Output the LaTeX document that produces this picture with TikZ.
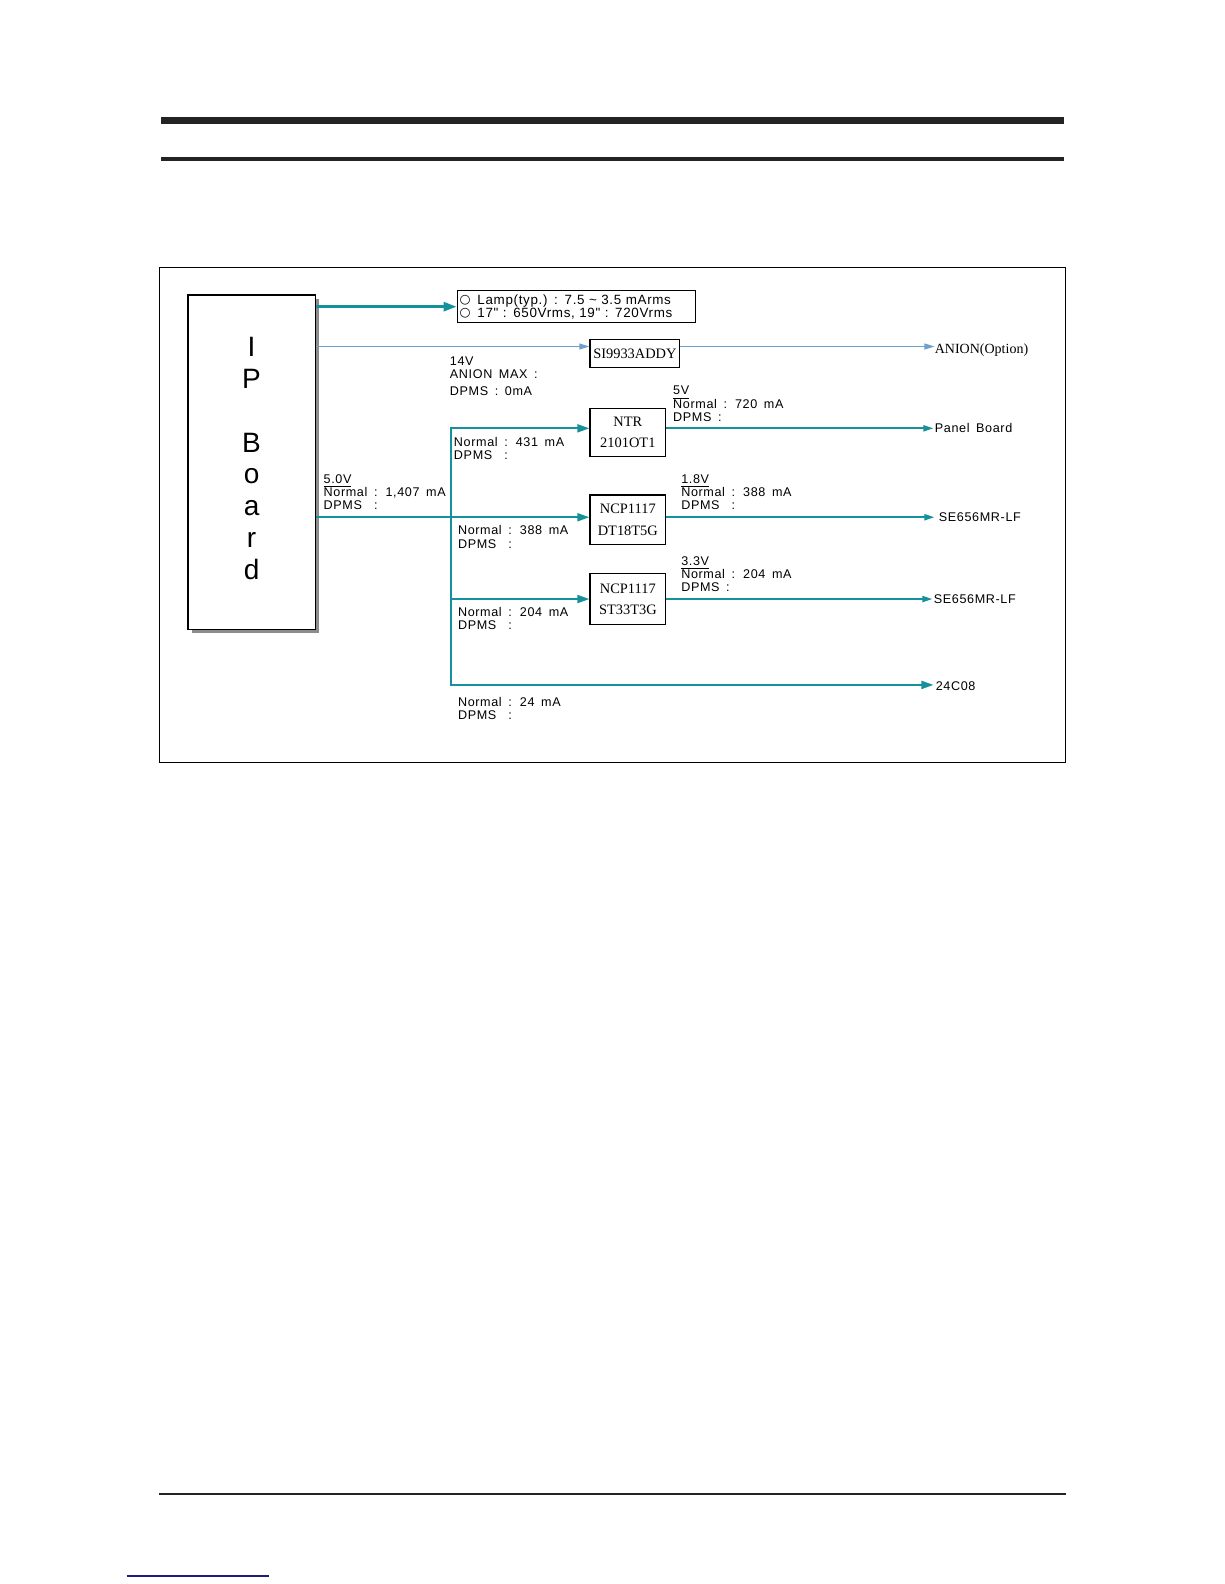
\documentclass[tikz,border=0pt]{standalone}
\usepackage{fontspec}
\usepackage{calc}
\setmainfont{Liberation Sans}
\newfontfamily\serf{Liberation Serif}
\newfontfamily\symf{DejaVu Sans}
\newfontfamily\gul[LetterSpace=5,WordSpace=1.6]{Liberation Sans}
\usetikzlibrary{arrows.meta,calc}
\definecolor{teal1}{RGB}{20,145,155}
\definecolor{thinblue}{RGB}{110,160,205}
\definecolor{linknavy}{RGB}{30,30,120}
\definecolor{bardark}{RGB}{35,35,35}
\definecolor{shadowgray}{RGB}{140,140,140}
\newcommand\pxu{0.505pt}
\newcommand\gfont{\gul\fontsize{6.3}{6.57}\selectfont}
\newcommand\lampfont{\gul\fontsize{6.7}{6.57}\selectfont}
\newcommand\lblk[1]{\begin{tabular}[t]{@{}l@{}}#1\end{tabular}}
\newcommand\dpms{\makebox[\widthof{Normal\ }][l]{DPMS}}
\newcommand\wc{\raisebox{0.2pt}{\symf\fontsize{6.3}{6}\selectfont ○}}
\tikzset{
  chip/.style={draw, line width=0.6pt, inner sep=0pt, align=center,
    font=\serf\fontsize{7.2}{10.6}\selectfont},
  lbl/.style={anchor=base west, inner sep=0pt, font=\gfont},
  endlbl/.style={anchor=west, inner sep=0pt, font=\gfont},
  tline/.style={draw=teal1, line width=1pt},
  tthick/.style={draw=teal1, line width=1.35pt},
  thinline/.style={draw=thinblue, line width=0.5pt},
  bigtip/.style={-{Triangle[length=6.5pt,width=4.5pt]}},
  midtip/.style={-{Triangle[length=6pt,width=4pt]}},
  smalltip/.style={-{Triangle[length=5pt,width=3pt]}},
}
\begin{document}
\begin{tikzpicture}[x=0.505pt, y=-0.505pt, line join=miter]
\useasboundingbox (0,0) rectangle (1212,1568);
% header bars
\fill[bardark] (159,115.5) rectangle (1053,122.8);
\fill[bardark] (159,155.5) rectangle (1053,159.4);
% footer
\fill[bardark] (157.4,1478.2) rectangle (1055,1480.2);
\draw[linknavy, line width=0.6pt] (125.4,1560) -- (266.4,1560);
% frame
\draw[line width=0.6pt] (158,264.7) rectangle (1055,754.8);

% IP board with shadow
\fill[shadowgray] (190,296) rectangle (316,627);
\node[draw, fill=white, line width=0.6pt, minimum width=126*\pxu, minimum height=331*\pxu, inner sep=0pt] (ip) at (249,457.5) {};
\node[inner sep=0pt, anchor=base, font=\fontsize{14}{15.9}\selectfont] (iplbl) at (249,353)
  {\begin{tabular}[t]{@{}c@{}}I\\P\\ \\B\\o\\a\\r\\d\end{tabular}};

% boxes
\node[draw, line width=0.6pt, anchor=north west, text width=231*\pxu, inner xsep=2.5*\pxu, inner ysep=0pt,
      minimum height=32*\pxu, align=left, font=\lampfont] (lamp) at (452,287)
  {\wc\,\ Lamp(typ.) : 7.5 \textasciitilde\ 3.5 mArms\\\wc\,\ 17" : 650Vrms, 19" : 720Vrms};
\node[chip, minimum width=89*\pxu, minimum height=28*\pxu] (si) at (628.5,350) {SI9933ADDY};
\node[chip, minimum width=75*\pxu, minimum height=48*\pxu] (ntr) at (621.5,428) {NTR\\2101OT1};
\node[chip, minimum width=75*\pxu, minimum height=49*\pxu] (ncpa) at (621.5,514.5) {NCP1117\\DT18T5G};
\node[chip, minimum width=75*\pxu, minimum height=50*\pxu] (ncpb) at (621.5,593) {NCP1117\\ST33T3G};

% end labels
\node[anchor=west, inner sep=0pt, font=\serf\fontsize{7}{8}\selectfont] (anion) at (925,347) {ANION(Option)};
\node[endlbl, inner xsep=0.5pt] (panel) at (924,424) {Panel Board};
\node[endlbl, inner xsep=2pt] (sea) at (925,512) {SE656MR-LF};
\node[endlbl, inner xsep=0.5pt] (seb) at (923,593) {SE656MR-LF};
\node[endlbl, inner xsep=1pt] (eep) at (924,679) {24C08};

% bus coordinates
\coordinate (ythin) at (0,343);
\coordinate (bt) at (446,424);
\coordinate (bm) at (446,512);
\coordinate (bc) at (446,593);
\coordinate (bb) at (446,678);

% connectors
\draw[tthick, bigtip] (ip.east |- lamp.west) -- (lamp.west);
\draw[thinline, smalltip] (ip.east |- ythin) -- (si.west |- ythin);
\draw[thinline, smalltip] (si.east |- ythin) -- (anion.west |- ythin);
\draw[tline, midtip] (ip.east |- bm) -- (bm -| ncpa.west);
\draw[tline, {Triangle[length=6pt,width=4pt]}-{Triangle[length=6pt,width=4pt]}]
  (bt -| ntr.west) -- (bt) -- (bb) -- (bb -| eep.west);
\draw[tline, midtip] (bc) -- (bc -| ncpb.west);
\draw[tline, smalltip] (bt -| ntr.east) -- (bt -| panel.west);
\draw[tline, smalltip] (bm -| ncpa.east) -- (bm -| sea.west);
\draw[tline, smalltip] (bc -| ncpb.east) -- (bc -| seb.west);

% labels
\node[lbl] (l14) at (445,362) {\lblk{14V\\ANION MAX :\\[2pt]DPMS : 0mA}};
\node[lbl] (l431) at (449,442) {\lblk{Normal : 431 mA\\\dpms:}};
\node[lbl] (l1407) at (320,478.5) {\lblk{\underline{5.0V}\\Normal : 1,407 mA\\\dpms:}};
\node[lbl] (l388a) at (453,529.5) {\lblk{Normal : 388 mA\\\dpms:}};
\node[lbl] (l204a) at (453,610) {\lblk{Normal : 204 mA\\\dpms:}};
\node[lbl] (l24) at (453,699.5) {\lblk{Normal : 24 mA\\\dpms:}};
\node[lbl] (l720) at (666,391) {\lblk{\underline{5V}\\Normal : 720 mA\\DPMS :}};
\node[lbl] (l388b) at (674,478.5) {\lblk{\underline{1.8V}\\Normal : 388 mA\\\dpms:}};
\node[lbl] (l204b) at (674,559.5) {\lblk{\underline{3.3V}\\Normal : 204 mA\\DPMS :}};
\end{tikzpicture}
\end{document}
